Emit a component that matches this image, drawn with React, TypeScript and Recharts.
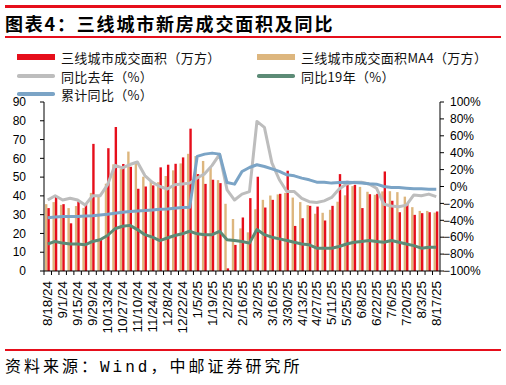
import { ComposedChart, Bar, Line, XAxis, YAxis } from 'recharts'

const weeks = [
    '8/18/24', '8/25/24', '9/1/24', '9/8/24', '9/15/24', '9/22/24', '9/29/24', '10/6/24', '10/13/24', '10/20/24',
    '10/27/24', '11/3/24', '11/10/24', '11/17/24', '11/24/24', '12/1/24', '12/8/24', '12/15/24', '12/22/24', '12/29/24',
    '1/5/25', '1/12/25', '1/19/25', '1/26/25', '2/2/25', '2/9/25', '2/16/25', '2/23/25', '3/2/25', '3/9/25',
    '3/16/25', '3/23/25', '3/30/25', '4/6/25', '4/13/25', '4/20/25', '4/27/25', '5/4/25', '5/11/25', '5/18/25',
    '5/25/25', '6/1/25', '6/8/25', '6/15/25', '6/22/25', '6/29/25', '7/6/25', '7/13/25', '7/20/25', '7/27/25',
    '8/3/25', '8/10/25', '8/17/25',
]

// 三线城市成交面积（万方）
const area = [
    33.5, 39.7, 35.6, 25.4, 37.0, 36.0, 67.7, 17.0, 65.4, 76.7,
    57.0, 55.5, 43.8, 45.0, 45.6, 55.2, 56.6, 57.1, 60.5, 75.8,
    51.6, 46.4, 48.6, 46.8, 1.4, 13.9, 28.5, 38.8, 50.2, 33.8,
    37.9, 41.1, 53.4, 24.0, 28.1, 34.7, 34.3, 26.9, 34.7, 51.6,
    48.0, 45.9, 33.5, 40.9, 41.1, 53.0, 37.4, 31.3, 36.1, 29.9,
    30.8, 31.3, 31.7,
]

// MA4
const areaMa4 = [
    35.6, 36.7, 35.2, 33.5, 34.6, 33.6, 41.6, 39.6, 46.5, 56.8,
    54.3, 63.6, 58.2, 50.2, 47.4, 47.3, 50.6, 53.6, 57.3, 62.4,
    61.2, 58.6, 55.0, 48.4, 35.8, 27.7, 22.7, 20.6, 32.9, 37.9,
    40.2, 40.8, 41.6, 39.1, 36.7, 35.1, 30.5, 31.0, 32.6, 36.9,
    40.3, 45.2, 44.8, 42.2, 40.6, 42.4, 42.5, 42.0, 39.6, 34.0,
    32.0, 32.0, 31.1,
]

// 同比去年（%）
const yoyLastYear = [
    -16, -11, -16, -14, -16, -22, -11, -11, 2, 25,
    22, 26, 29, 13, 5, 0, -3, 2, 3, 4,
    10, 15, 25, 38, -4, -16, -9, -6, 77, 70,
    28, 8, -6, -6, -14, -18, -19, -17, -13, -3,
    3, 5, 5, 3, -2, -21, -23, -24, -22, -10,
    -11, -9, -12,
]

// 同比19年（%）
const yoy2019 = [
    -68, -65, -67, -68, -68, -69, -65, -63, -58, -50,
    -47, -46, -51, -57, -60, -64, -61, -58, -56, -53,
    -56, -57, -57, -53, -63, -64, -65, -67, -51, -57,
    -60, -62, -64, -66, -68, -69, -73, -73, -73, -71,
    -68, -66, -65, -64, -65, -66, -64, -66, -68, -70,
    -73, -72, -72,
]

// 累计同比（%）
const ytdYoy = [
    -37, -36, -35.6, -35.5, -35.4, -35, -34.5, -33.6, -32.8, -31.6,
    -30.4, -29.6, -28.9, -28.5, -27.7, -26.9, -26.5, -25.7, -24.9, -24.5,
    35.6, 38.3, 39.5, 38.3, 4.7, 2.8, 17.8, 22.5, 25.7, 23.7,
    20.9, 17.8, 13.8, 12.6, 9.9, 7.9, 5.1, 5.1, 4.0, 4.7,
    5.1, 4.7, 4.0, 3.2, 2.8, 0, -1.2, -1.2, -2.0, -2.8,
    -2.8, -3.2, -3.2,
]

const leftTicks = [0, 10, 20, 30, 40, 50, 60, 70, 80, 90]
const rightTicks = [-100, -80, -60, -40, -20, 0, 20, 40, 60, 80, 100]

const RED = '#E60E1B'
const TAN = '#DDB67E'
const GRAY = '#BDBDBD'
const GREEN = '#5C8B76'
const BLUE = '#7BA4C6'

const CJK = '"Noto Sans CJK SC", sans-serif'
const LATIN = '"Liberation Sans", Arial, sans-serif'

const rows = weeks.map((w, i) => ({
    week: w,
    area: area[i],
    ma4: areaMa4[i],
    yoy: yoyLastYear[i],
    yoy19: yoy2019[i],
    ytd: ytdYoy[i],
}))

function XTick(props: any) {
    const { x, y, payload, index } = props
    const half = payload?.offset ?? 0
    return (
        <g>
            <line x1={x - half} x2={x - half} y1={y} y2={y + 4} stroke="#000" />
            {index === weeks.length - 1 && (
                <line x1={x + half} x2={x + half} y1={y} y2={y + 4} stroke="#000" />
            )}
            {index % 2 === 0 && (
                <text
                    transform={`translate(${x},${y + 10}) rotate(-90)`}
                    textAnchor="end"
                    dy="0.35em"
                    fontSize={13.5}
                    fontFamily={LATIN}
                    fill="#000"
                >
                    {payload.value}
                </text>
            )}
        </g>
    )
}

function RightTick(props: any) {
    const { x, y, payload } = props
    const v = payload.value as number
    return (
        <g fontFamily={LATIN} fontSize={12} fill="#000">
            {v < 0 && (
                <text x={x + 6} y={y} dy="0.35em" textAnchor="end">−</text>
            )}
            <text x={x + 6} y={y} dy="0.35em" textAnchor="start">{Math.abs(v)}%</text>
        </g>
    )
}

function LegendItem({ color, label, thick, top, left }: { color: string; label: string; thick: number; top: number; left: number }) {
    return (
        <div style={{ position: 'absolute', top, left, display: 'flex', alignItems: 'center', height: 18 }}>
            <div style={{ width: 38, height: thick, background: color, borderRadius: thick < 5 ? thick / 2 : 0 }} />
            <span style={{ marginLeft: 6, fontSize: 13, letterSpacing: 0.3, fontFamily: CJK, color: '#111', whiteSpace: 'nowrap' }}>
                {label}
            </span>
        </div>
    )
}

export default function App() {
    return (
        <div style={{ position: 'absolute', left: 0, top: 0, width: 506, height: 385, background: '#fff', overflow: 'hidden' }}>
            <div style={{ position: 'absolute', left: 0, top: 0 }}>
                <ComposedChart
                    width={506}
                    height={385}
                    data={rows}
                    margin={{ top: 102, right: 0, bottom: 0, left: 0 }}
                    barGap={0}
                >
                    <XAxis
                        dataKey="week"
                        interval={0}
                        height={114}
                        tickLine={false}
                        tickSize={0}
                        tickMargin={0}
                        stroke="#000"
                        tick={<XTick />}
                    />
                    <YAxis
                        yAxisId="left"
                        domain={[0, 90]}
                        ticks={leftTicks}
                        interval={0}
                        width={44}
                        stroke="#000"
                        tickSize={4}
                        tickMargin={14}
                        tick={{ fontSize: 12, fontFamily: LATIN, fill: '#000' }}
                        allowDataOverflow
                    />
                    <YAxis
                        yAxisId="right"
                        orientation="right"
                        domain={[-100, 100]}
                        ticks={rightTicks}
                        interval={0}
                        width={66}
                        stroke="#000"
                        tickSize={4}
                        tickMargin={0}
                        tick={<RightTick />}
                        allowDataOverflow
                    />
                    <Bar yAxisId="left" dataKey="ma4" fill={TAN} barSize={2.4} isAnimationActive={false} />
                    <Bar yAxisId="left" dataKey="area" fill={RED} barSize={2.4} isAnimationActive={false} />
                    <Line yAxisId="right" type="linear" dataKey="yoy" stroke={GRAY} strokeWidth={3} dot={false} strokeLinejoin="round" isAnimationActive={false} />
                    <Line yAxisId="right" type="linear" dataKey="yoy19" stroke={GREEN} strokeWidth={3} dot={false} strokeLinejoin="round" isAnimationActive={false} />
                    <Line yAxisId="right" type="linear" dataKey="ytd" stroke={BLUE} strokeWidth={3} dot={false} strokeLinejoin="round" isAnimationActive={false} />
                </ComposedChart>
            </div>

            <div style={{ position: 'absolute', left: 5, top: 5, width: 496, height: 2.5, background: RED }} />
            <div
                style={{
                    position: 'absolute', left: 5, top: 12, fontSize: 18, fontWeight: 700, lineHeight: '22px',
                    letterSpacing: 1.8, fontFamily: CJK, color: '#000', whiteSpace: 'nowrap',
                }}
            >
                图表4：三线城市新房成交面积及同比
            </div>
            <div style={{ position: 'absolute', left: 5, top: 36, width: 496, height: 1.5, background: RED }} />

            <LegendItem color={RED} label="三线城市成交面积（万方）" thick={6} top={48} left={17} />
            <LegendItem color={TAN} label="三线城市成交面积MA4（万方）" thick={6} top={48} left={257} />
            <LegendItem color={GRAY} label="同比去年（%）" thick={3.5} top={67} left={17} />
            <LegendItem color={GREEN} label="同比19年（%）" thick={3.5} top={67} left={257} />
            <LegendItem color={BLUE} label="累计同比（%）" thick={3.5} top={85} left={17} />

            <div style={{ position: 'absolute', left: 5, top: 349, width: 496, height: 1.5, background: RED }} />
            <div
                style={{
                    position: 'absolute', left: 5, top: 358, fontSize: 16, lineHeight: '20px', letterSpacing: 3,
                    fontFamily: '"Liberation Mono", "Noto Sans CJK SC", monospace', color: '#000', whiteSpace: 'nowrap',
                }}
            >
                资料来源：Wind，中邮证券研究所
            </div>
        </div>
    )
}
